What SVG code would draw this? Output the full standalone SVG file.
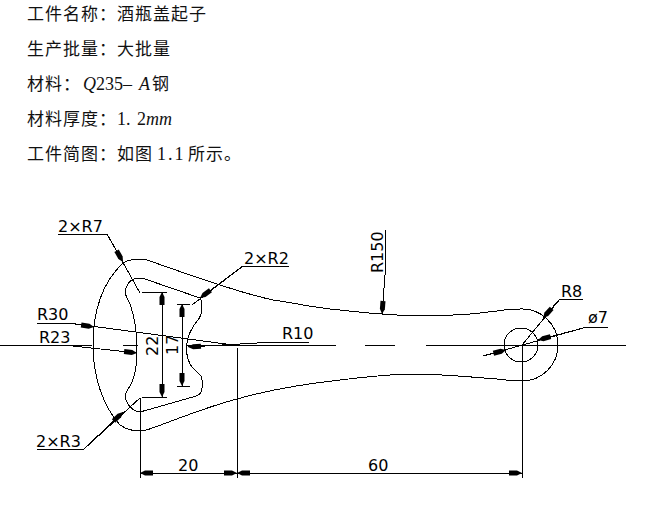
<svg xmlns="http://www.w3.org/2000/svg" width="668" height="507" viewBox="0 0 668 507">
<style>
.cn{font-family:"Noto Sans CJK SC","Liberation Serif",serif;font-size:17px;letter-spacing:1px;fill:#111}
.lat{font-family:"Liberation Serif",serif;font-size:18px;fill:#111}
.it{font-style:italic}
.cad{font-family:"DejaVu Sans","Liberation Sans",sans-serif;font-size:16px;fill:#000}
.l{fill:none;stroke:#000;stroke-width:1;shape-rendering:crispEdges}
.a{fill:none;stroke:#000;stroke-width:1;shape-rendering:crispEdges;marker-end:url(#ah)}
</style>
<defs>
<marker id="ah" markerUnits="userSpaceOnUse" markerWidth="14" markerHeight="7" refX="13" refY="3" orient="auto" overflow="visible">
<path d="M0,.5L8,.5L13,3L8,5.5L0,5.5Z" fill="#000"/>
</marker>
</defs>
<rect width="668" height="507" fill="#fff"/>
<g id="spec-text">
<text class="cn" x="27" y="20">工件名称：酒瓶盖起子</text>
<text class="cn" x="27" y="55">生产批量：大批量</text>
<text class="cn" x="27" y="90">材料：</text>
<text class="lat it" x="83" y="90">Q</text><text class="lat" x="96" y="90">235</text><text class="lat" x="123" y="90">–</text><text class="lat it" x="139" y="90">A</text>
<text class="cn" x="152" y="90">钢</text>
<text class="cn" x="27" y="125">材料厚度：</text>
<text class="lat" x="117" y="125">1.</text><text class="lat" x="137" y="125">2</text><text class="lat it" x="146" y="125">mm</text>
<text class="cn" x="27" y="160">工件简图：如图</text>
<text class="lat" x="157" y="160" letter-spacing="2">1.1</text>
<text class="cn" x="188" y="160">所示。</text>
</g>
<g id="part-outline">
<path id="outer" class="l" d="M140,259C133,259 128,260 123,263C106,279 93,305 93,345C93,375 102,405 120,425C127,430 134,431 140,431C146,431 152,428 158,426C185,416 210,406 237,399C265,391 295,385 340,380C365,377 390,374 413,374C440,374 470,377 497,379C505,380 514,381 522,381A36,36 0 0 0 558,345A36,36 0 0 0 520,309C510,309 504,310 497,311C480,313 465,315 453,315C430,316 405,316 382,314C365,313 350,311 340,310C315,308 295,303 273,300C255,296 238,291 220,285C195,277 170,268 147,260C145,259 142,259 140,259Z"/>
<path id="inner" class="l" d="M140,278C133,278 128,282 126,288C124,294 127,298 130,304C135,318 137,335 137,350C137,365 135,375 132,382C129,389 125,392 125,396C126,404 133,412 140,412L193,397C198,396 202,393 202,388C202,384 203,380 201,376C198,372 193,370 190,364C187,358 186,350 187,343C188,333 193,326 198,320C202,315 202,310 202,306C202,302 201,299 200,298L145,279C143,278 142,278 140,278Z"/>
<circle id="hole" class="l" cx="521" cy="345" r="17"/>
</g>
<g id="centerlines">
<path class="l" d="M0,345H92M123,345H138M187,345H336M365,345H395M426,345H626"/>
</g>
<g id="connectors">
<path class="l" d="M522,345V478M237,348V478M140,398V478"/>
<path class="a" d="M162,345V292"/>
<path class="a" d="M162,345V397"/>
<path class="l" d="M142,292H167M142,397H167"/>
<path class="a" d="M182,345V304"/>
<path class="a" d="M182,345V386"/>
<path class="l" d="M177,304H190M177,386H190"/>
<path class="a" d="M190,473H140"/>
<path class="a" d="M190,473H237"/>
<path class="a" d="M380,473H237"/>
<path class="a" d="M380,473H522"/>
<path class="l" d="M58,234H107L140,293"/>
<path class="a" d="M107,234L123,262"/>
<path class="l" d="M289,266H243L192,305"/>
<path class="a" d="M243,266L200,298"/>
<path class="l" d="M37,323H68L233,345"/>
<path class="a" d="M68,323L94,327"/>
<path class="l" d="M40,345H73"/>
<path class="a" d="M73,346L137,353"/>
<path class="l" d="M257,342H309"/>
<path class="a" d="M257,343L188,347"/>
<path class="l" d="M385,230V275"/>
<path class="a" d="M385,275L382,314"/>
<path class="l" d="M583,299H560L522,345"/>
<path class="a" d="M560,299L543,318"/>
<path class="l" d="M608,327H587L483,356"/>
<path class="a" d="M587,327L538,340"/>
<path class="a" d="M483,356L506,350"/>
<path class="l" d="M37,449H84L140,398"/>
<path class="a" d="M84,449L123,412"/>
</g>
<g id="labels">
<text class="cad" x="58" y="232">2×R7</text>
<text class="cad" x="244" y="264">2×R2</text>
<text class="cad" x="37" y="320">R30</text>
<text class="cad" x="39" y="343">R23</text>
<text class="cad" x="282" y="339">R10</text>
<text class="cad" x="36" y="447">2×R3</text>
<text class="cad" x="178" y="471">20</text>
<text class="cad" x="368" y="471">60</text>
<text class="cad" x="561" y="297">R8</text>
<text class="cad" x="588" y="323">ø7</text>
<text class="cad" transform="translate(383,273) rotate(-90)">R150</text>
<text class="cad" transform="translate(158,356) rotate(-90)">22</text>
<text class="cad" transform="translate(178,355) rotate(-90)">17</text>
</g>
</svg>
